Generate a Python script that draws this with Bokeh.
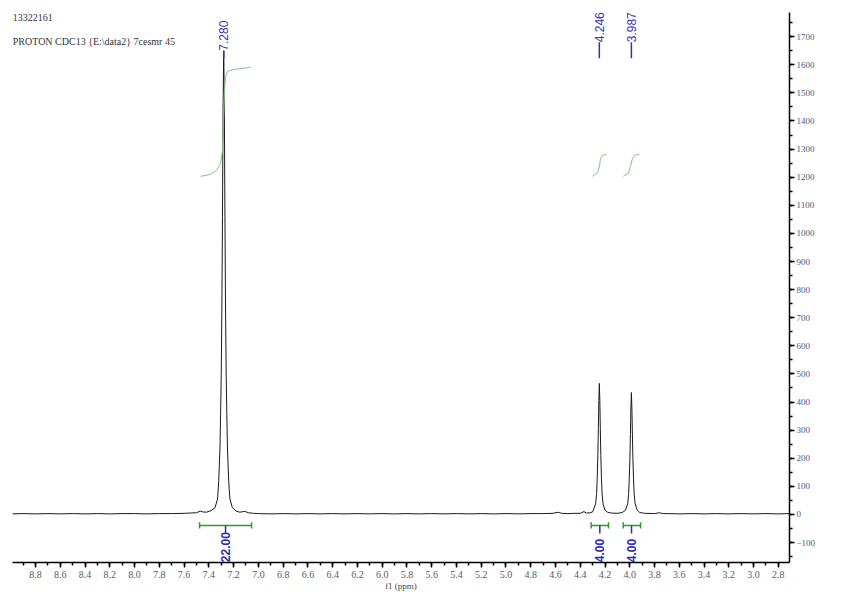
from bokeh.plotting import figure
from bokeh.models import Range1d, SingleIntervalTicker, PrintfTickFormatter
from bokeh.core.properties import value
from bokeh.embed import file_html
from bokeh.resources import INLINE

# ---- data ----
title_lines = ["13322161", "PROTON CDC13 {E:\\data2} 7cesmr 45"]

spec_ppm = [8.99, 8.9, 8.8, 8.7, 8.6, 8.5, 8.4, 8.3, 8.2, 8.1, 8.0, 7.9, 7.8, 7.7,
            7.60, 7.55, 7.50, 7.47, 7.45, 7.42, 7.38, 7.35, 7.33, 7.32, 7.31, 7.305,
            7.30, 7.295, 7.29, 7.285, 7.28, 7.275, 7.27, 7.265, 7.26, 7.255, 7.25,
            7.24, 7.23, 7.21, 7.18, 7.15, 7.11, 7.08, 7.04,
            7.0, 6.9, 6.8, 6.7, 6.6, 6.5, 6.4, 6.3, 6.2, 6.1, 6.0, 5.9, 5.8, 5.7,
            5.6, 5.5, 5.4, 5.3, 5.2, 5.1, 5.0, 4.9, 4.8, 4.7, 4.62, 4.58, 4.55,
            4.5, 4.45, 4.40, 4.37, 4.35, 4.32, 4.30, 4.276, 4.268, 4.263, 4.258,
            4.254, 4.25, 4.246, 4.242, 4.238, 4.234, 4.229, 4.224, 4.216, 4.20,
            4.18, 4.15, 4.10, 4.06, 4.035, 4.017, 4.009, 4.004, 3.999, 3.995,
            3.991, 3.987, 3.983, 3.979, 3.975, 3.970, 3.965, 3.957, 3.94, 3.92,
            3.88, 3.80, 3.76, 3.73, 3.7, 3.6, 3.5, 3.4, 3.3, 3.2, 3.1, 3.0, 2.9,
            2.8, 2.71]
spec_int = [2, 3, 2, 3, 2, 3, 2, 3, 2, 3, 3, 2, 3, 3,
            4, 5, 6, 12, 9, 8, 14, 24, 55, 120, 240, 360,
            500, 720, 1060, 1450, 1650, 1450, 1060, 720, 500, 360, 240,
            120, 55, 24, 12, 8, 11, 6, 4,
            3, 2, 3, 2, 3, 2, 3, 2, 3, 2, 3, 2, 3, 2,
            3, 2, 3, 2, 3, 2, 3, 2, 3, 3, 4, 8, 4,
            3, 4, 4, 10, 5, 6, 9, 38, 75, 130, 210,
            305, 405, 466, 405, 305, 210, 130, 75, 38, 15,
            8, 5, 4, 7, 15, 38, 75, 130, 200, 285,
            375, 434, 375, 285, 200, 130, 75, 38, 15, 7,
            4, 3, 6, 3, 3, 2, 3, 2, 3, 2, 3, 2, 3,
            2, 3]

peak_ppm = [7.280, 4.246, 3.987]
peak_labels = ["7.280", "4.246", "3.987"]

integ_curves_ppm = [
    [7.467, 7.387, 7.338, 7.306, 7.290, 7.282, 7.274, 7.265, 7.249, 7.185, 7.064],
    [4.303, 4.260, 4.244, 4.236, 4.220, 4.188],
    [4.053, 4.011, 3.994, 3.978, 3.962, 3.922],
]
integ_curves_val = [
    [1203, 1210, 1224, 1249, 1295, 1402, 1509, 1559, 1577, 1584, 1591],
    [1203, 1217, 1242, 1267, 1278, 1281],
    [1203, 1214, 1238, 1267, 1278, 1281],
]

integ_start = [7.475, 4.312, 4.053]
integ_end = [7.055, 4.172, 3.913]
integ_center = [7.265, 4.242, 3.986]
integ_labels = ["22.00", "4.00", "4.00"]

x_tick_interval = 0.2
y_tick_interval = 100

# ---- figure ----
p = figure(width=854, height=597, output_backend="svg", toolbar_location=None,
           x_range=Range1d(8.986, 2.71), y_range=Range1d(-171, 1786),
           y_axis_location="right",
           min_border_left=12, min_border_top=12, min_border_right=65,
           min_border_bottom=35)
p.outline_line_color = None
p.grid.visible = False
p.background_fill_color = "white"

# spectrum
p.line(spec_ppm, spec_int, line_color="#1a1a1a", line_width=1)

# integral curves
for xs, ys in zip(integ_curves_ppm, integ_curves_val):
    p.line(xs, ys, line_color="#88c288", line_width=1)

# peak labels
lab_top = [1650, 1680, 1680]
p.segment(x0=peak_ppm, y0=[1623, 1623, 1623], x1=peak_ppm, y1=lab_top,
          line_color="#3030b0", line_width=1.5)
p.text(x=peak_ppm, y=lab_top, text=peak_labels, angle=1.5708,
       text_align="left", text_baseline="middle",
       text_font=value("Liberation Sans"), text_font_size="12px",
       text_color="#3535b5")

# integral brackets
bar_y = -39
p.segment(x0=integ_start, y0=[bar_y] * 3, x1=integ_end, y1=[bar_y] * 3,
          line_color="#2e9a2e", line_width=1.5)
p.segment(x0=integ_start, y0=[bar_y - 11] * 3, x1=integ_start, y1=[bar_y + 11] * 3,
          line_color="#2e9a2e", line_width=1.5)
p.segment(x0=integ_end, y0=[bar_y - 11] * 3, x1=integ_end, y1=[bar_y + 11] * 3,
          line_color="#2e9a2e", line_width=1.5)
p.segment(x0=integ_center, y0=[bar_y] * 3, x1=integ_center, y1=[-68] * 3,
          line_color="#3030b0", line_width=1.5)
p.text(x=integ_center, y=[-170] * 3, text=integ_labels, angle=1.5708,
       text_align="left", text_baseline="middle",
       text_font=value("Liberation Sans"), text_font_size="12px",
       text_font_style="bold", text_color="#2b2bb0")

# header text
p.text(x=[8.984, 8.984], y=[1769, 1683], text=title_lines,
       text_align="left", text_baseline="middle",
       text_font=value("Liberation Serif"), text_font_size="10px",
       text_color="#333333")

# axes
xa = p.xaxis[0]
xa.ticker = SingleIntervalTicker(interval=x_tick_interval, num_minor_ticks=2)
xa.formatter = PrintfTickFormatter(format="%.1f")
xa.axis_label = "f1 (ppm)"
xa.axis_label_text_font = "Liberation Serif"
xa.axis_label_text_font_size = "9px"
xa.axis_label_text_font_style = "normal"
xa.axis_label_text_color = "#444444"
xa.axis_label_standoff = 0
xa.major_label_text_font = "Liberation Serif"
xa.major_label_text_font_size = "10px"
xa.major_label_text_color = "#5a5a5a"
xa.major_label_standoff = 3
xa.axis_line_color = "black"
xa.axis_line_width = 1.5
xa.major_tick_in = 0
xa.major_tick_out = 5
xa.minor_tick_in = 0
xa.minor_tick_out = 3
xa.major_tick_line_width = 1.5
xa.minor_tick_line_width = 1.5
xa.major_tick_line_color = "black"
xa.minor_tick_line_color = "black"

ya = p.yaxis[0]
ya.ticker = SingleIntervalTicker(interval=y_tick_interval, num_minor_ticks=2)
ya.major_label_text_font = "Liberation Serif"
ya.major_label_text_font_size = "9px"
ya.major_label_text_color = "#4e5878"
ya.major_label_standoff = 2
ya.axis_line_color = "black"
ya.axis_line_width = 1.5
ya.major_tick_in = 0
ya.major_tick_out = 5
ya.minor_tick_in = 0
ya.minor_tick_out = 3
ya.major_tick_line_width = 1.5
ya.minor_tick_line_width = 1.5
ya.major_tick_line_color = "black"
ya.minor_tick_line_color = "black"

open("out.html", "w").write(file_html(p, INLINE))
